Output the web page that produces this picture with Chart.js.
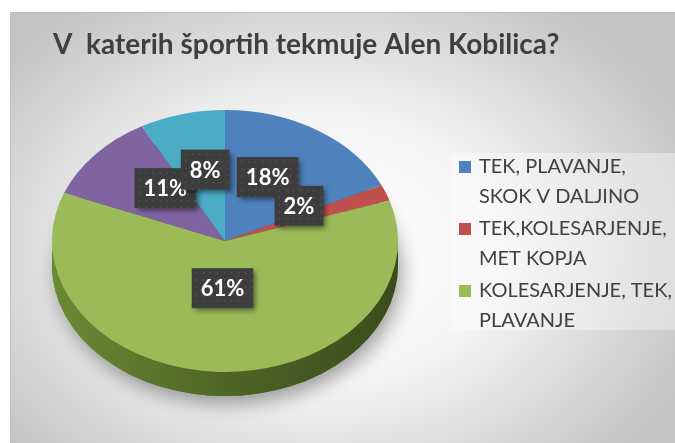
<!DOCTYPE html>
<html>
<head>
<meta charset="utf-8">
<script src="https://cdn.jsdelivr.net/npm/chart.js@4/dist/chart.umd.min.js"></script>
<style>
  html, body { margin: 0; padding: 0; background: #fff; }
  #wrap { width: 675px; height: 443px; }
</style>
</head>
<body>
<div id="wrap"><canvas id="sportsChart" width="675" height="443"></canvas></div>
<script>
// Data
const categories = [
  ['TEK, PLAVANJE,', 'SKOK V DALJINO'],
  ['TEK,KOLESARJENJE,', 'MET KOPJA'],
  ['KOLESARJENJE, TEK,', 'PLAVANJE'],
  [''],
  ['']
];
const shares = [18, 2, 61, 11, 8];
const sliceColors = ['#4F81BD', '#C0504D', '#9BBB59', '#8064A2', '#4BACC6'];
const sideColors = ['#2f4f7a', '#7a2f2d', '#4d6626', '#4b3a62', '#2b6b7c'];
const chartTitle = 'V  katerih športih tekmuje Alen Kobilica?';
const legendRows = 3; // Excel only had room for the first three

// pie "3D" look
const CENTER_X = 225;
const CENTER_Y = 241;
const TILT = 0.757;
const DEPTH = 24;
const LABEL_LIFT = 13;

const ctx = document.getElementById('sportsChart').getContext('2d');

// background frame with soft radial gradient
const backgroundPlugin = {
  id: 'frameBackground',
  beforeDraw(chart) {
    const c = chart.ctx;
    c.save();
    c.fillStyle = '#ffffff';
    c.fillRect(0, 0, chart.width, chart.height);
    c.beginPath();
    c.rect(10, 12, chart.width - 10, chart.height - 12);
    c.clip();
    c.translate(320, 250);
    c.scale(1.35, 1);
    const g = c.createRadialGradient(0, 0, 0, 0, 0, 300);
    g.addColorStop(0, '#ffffff');
    g.addColorStop(0.45, '#f4f4f4');
    g.addColorStop(1, '#c4c4c4');
    c.fillStyle = g;
    c.fillRect(-300, -300, 600, 600);
    c.restore();
    c.save();
    c.strokeStyle = '#bdbdbd';
    c.lineWidth = 1;
    c.beginPath();
    c.moveTo(10, 12.5);
    c.lineTo(chart.width, 12.5);
    c.moveTo(10.5, 12);
    c.lineTo(10.5, chart.height);
    c.stroke();
    // faint plot box behind legend
    c.fillStyle = 'rgba(255,255,255,0.35)';
    c.fillRect(451, 153, 224, 177);
    c.restore();
  }
};

// squash the pie into an ellipse and give it a side wall
const tiltPlugin = {
  id: 'tilt',
  beforeDatasetsDraw(chart) {
    const c = chart.ctx;
    const arcs = chart.getDatasetMeta(0).data;
    if (!arcs.length) return;
    const R = arcs[0].outerRadius;
    const ry = R * TILT;

    // shadow under the pie
    c.save();
    c.shadowColor = 'rgba(0,0,0,0.35)';
    c.shadowBlur = 18;
    c.shadowOffsetX = 4;
    c.shadowOffsetY = 8;
    c.fillStyle = '#4d6626';
    c.beginPath();
    c.ellipse(CENTER_X, CENTER_Y + DEPTH, R, ry, 0, 0, Math.PI * 2);
    c.fill();
    c.restore();

    // side wall, only the front half is seen
    arcs.forEach((arc, i) => {
      const ranges = [[0, Math.PI], [Math.PI * 2, Math.PI * 3]];
      ranges.forEach(([lo, hi]) => {
        const s = Math.max(arc.startAngle, lo);
        const e = Math.min(arc.endAngle, hi);
        if (e <= s) return;
        const g = c.createLinearGradient(CENTER_X - R, 0, CENTER_X + R, 0);
        g.addColorStop(0, '#6b8a34');
        g.addColorStop(0.5, sideColors[i]);
        g.addColorStop(1, '#3a4c1c');
        c.save();
        c.fillStyle = i === 2 ? g : sideColors[i];
        c.beginPath();
        c.ellipse(CENTER_X, CENTER_Y, R, ry, 0, s, e);
        c.ellipse(CENTER_X, CENTER_Y + DEPTH, R, ry, 0, e, s, true);
        c.closePath();
        c.fill();
        c.restore();
      });
    });

    c.save();
    c.translate(CENTER_X, CENTER_Y);
    c.scale(1, TILT);
    c.translate(-arcs[0].x, -arcs[0].y);
  },
  afterDatasetsDraw(chart) {
    chart.ctx.restore();
    drawValueLabels(chart);
  }
};

function drawValueLabels(chart) {
  const c = chart.ctx;
  const arcs = chart.getDatasetMeta(0).data;
  const values = chart.data.datasets[0].data;
  const total = values.reduce((a, b) => a + b, 0);
  c.save();
  c.font = 'bold 22px Lato';
  c.textAlign = 'center';
  c.textBaseline = 'middle';
  arcs.forEach((arc, i) => {
    const mid = (arc.startAngle + arc.endAngle) / 2;
    const r = arc.outerRadius * 0.46;
    const x = CENTER_X + Math.cos(mid) * r;
    const y = CENTER_Y - LABEL_LIFT + Math.sin(mid) * r * TILT;
    const text = Math.round(values[i] / total * 100) + '%';
    const w = c.measureText(text).width + 18;
    const h = 40;
    c.save();
    c.shadowColor = 'rgba(0,0,0,0.45)';
    c.shadowBlur = 5;
    c.shadowOffsetX = 3;
    c.shadowOffsetY = 3;
    c.fillStyle = '#3d3d3d';
    c.fillRect(x - w / 2, y - h / 2, w, h);
    c.restore();
    // dotted texture
    c.fillStyle = '#575757';
    for (let dx = 4; dx < w; dx += 7) {
      for (let dy = 4; dy < h; dy += 7) {
        c.fillRect(x - w / 2 + dx, y - h / 2 + dy, 1.5, 1.5);
      }
    }
    c.fillStyle = '#ffffff';
    c.fillText(text, x, y + 1);
  });
  c.restore();
}

// legend with wrapped rows like the Excel one
const legendPlugin = {
  id: 'wrappedLegend',
  afterDraw(chart) {
    const c = chart.ctx;
    const labels = chart.data.labels;
    const colors = chart.data.datasets[0].backgroundColor;
    let y = 167;
    c.save();
    c.font = '20px Lato';
    c.textBaseline = 'middle';
    for (let i = 0; i < legendRows; i++) {
      c.fillStyle = colors[i];
      c.fillRect(459, y - 6, 12, 12);
      c.fillStyle = '#404040';
      labels[i].forEach((line) => {
        c.fillText(line, 479, y);
        y += 30;
      });
      y += 2;
    }
    c.restore();
  }
};

const sportsChart = new Chart(ctx, {
  type: 'pie',
  data: {
    labels: categories,
    datasets: [{
      data: shares,
      backgroundColor: sliceColors,
      borderWidth: 0,
      radius: 173
    }]
  },
  options: {
    responsive: false,
    animation: false,
    layout: { padding: { left: 53, right: 0, top: 0, bottom: 0 } },
    plugins: {
      legend: { display: false },
      tooltip: { enabled: false },
      title: {
        display: true,
        text: chartTitle,
        align: 'start',
        color: '#3f3f3f',
        font: { family: 'Lato', size: 28, weight: 'bold' },
        padding: { top: 28, bottom: 0 }
      }
    }
  },
  plugins: [backgroundPlugin, tiltPlugin, legendPlugin]
});
</script>
</body>
</html>
